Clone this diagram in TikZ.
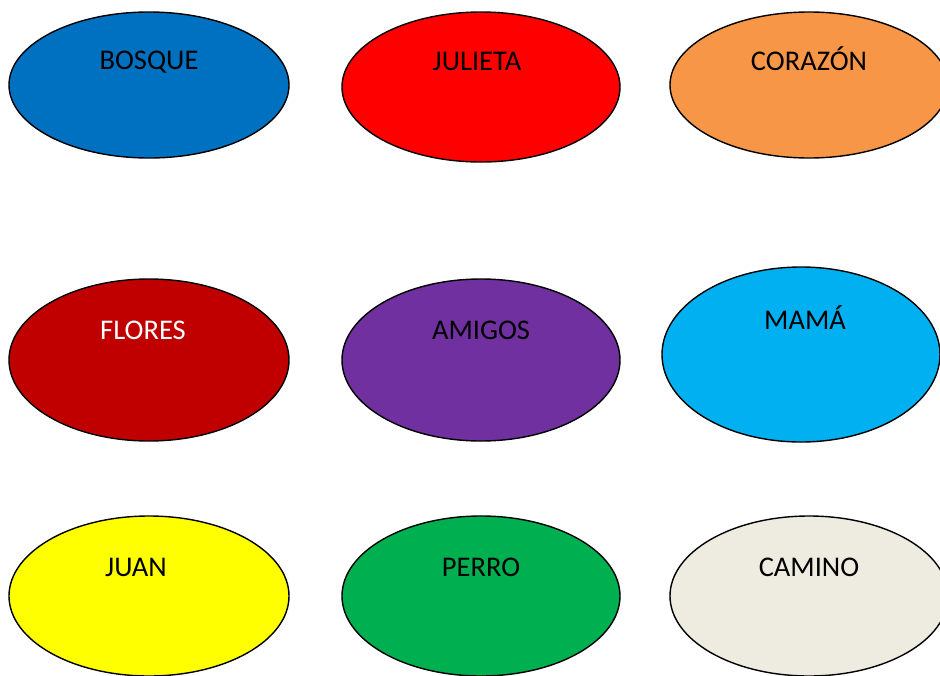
\documentclass[tikz,border=0pt]{standalone}
\usepackage{fontspec}
\setmainfont{Carlito}
\definecolor{cBosque}{HTML}{0070C0}
\definecolor{cJulieta}{HTML}{FF0000}
\definecolor{cCorazon}{HTML}{F79646}
\definecolor{cFlores}{HTML}{C00000}
\definecolor{cAmigos}{HTML}{7030A0}
\definecolor{cMama}{HTML}{00B0F0}
\definecolor{cJuan}{HTML}{FFFF00}
\definecolor{cPerro}{HTML}{00B050}
\definecolor{cCamino}{HTML}{EEECE1}
\begin{document}
\begin{tikzpicture}[x=1pt,y=-1pt,
  blob/.style={draw=black,line width=1.4pt},
  word/.style={inner sep=0pt,anchor=base,font=\fontsize{28.5}{32}\selectfont}]
\useasboundingbox (0,0) rectangle (940,675);
\clip (0,0) rectangle (940,675);
% row 1
\filldraw[blob,fill=cBosque] (149,85) ellipse [x radius=140,y radius=73];
\node[word] (bosque) at (149,69) {BOSQUE};
\filldraw[blob,fill=cJulieta] (481,87) ellipse [x radius=139,y radius=75];
\node[word] (julieta) at (477,70) {JULIETA};
\filldraw[blob,fill=cCorazon] (809,85) ellipse [x radius=139,y radius=73];
\node[word] (corazon) at (809,70) {CORAZÓN};
% row 2
\filldraw[blob,fill=cFlores] (149,360) ellipse [x radius=140,y radius=81];
\node[word,text=white] (flores) at (143,339) {FLORES};
\filldraw[blob,fill=cAmigos] (481,360) ellipse [x radius=139,y radius=81];
\node[word] (amigos) at (481,339) {AMIGOS};
\filldraw[blob,fill=cMama] (801,354.5) ellipse [x radius=139,y radius=87.5];
\node[word] (mama) at (805,329) {MAMÁ};
% row 3
\filldraw[blob,fill=cJuan] (149,596) ellipse [x radius=140,y radius=80];
\node[word] (juan) at (136,576) {JUAN};
\filldraw[blob,fill=cPerro] (481,596) ellipse [x radius=139,y radius=80];
\node[word] (perro) at (481,576) {PERRO};
\filldraw[blob,fill=cCamino] (809,596) ellipse [x radius=139,y radius=80];
\node[word] (camino) at (809,576) {CAMINO};
\end{tikzpicture}
\end{document}
